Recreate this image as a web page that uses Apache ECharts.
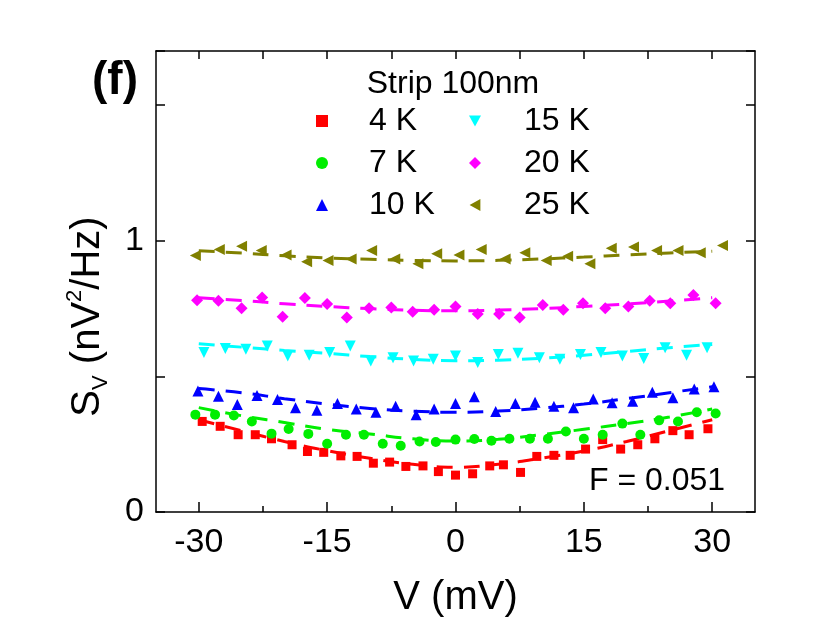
<!DOCTYPE html>
<html>
<head>
<meta charset="utf-8">
<script src="https://cdn.jsdelivr.net/npm/echarts@6/dist/echarts.min.js"></script>
<style>
html,body{margin:0;padding:0;background:#fff;}
#chart{width:830px;height:642px;}
</style>
</head>
<body>
<div id="chart"></div>
<script>
// ---- data ----
const seriesNames = ['4 K', '7 K', '10 K', '15 K', '20 K', '25 K'];
const colors = ['#ff0000', '#00ee00', '#0000ff', '#00ffff', '#ff00ff', '#808000'];

const v4K = [-29.6,-27.5,-25.4,-23.4,-21.5,-19.1,-17.3,-15.4,-13.4,-11.5,-9.6,-7.7,-5.8,-3.8,-2.0,0,2.0,4.0,5.6,7.6,9.5,11.5,13.4,15.2,17.2,19.3,21.3,23.3,25.4,27.3,29.5];
const s4K = [0.334,0.316,0.285,0.285,0.270,0.248,0.223,0.220,0.207,0.205,0.180,0.184,0.168,0.170,0.149,0.136,0.141,0.170,0.174,0.146,0.205,0.209,0.209,0.232,0.267,0.232,0.248,0.270,0.300,0.285,0.307];

const v7K = [-30.4,-28.1,-25.9,-23.8,-21.5,-19.5,-17.2,-15.0,-12.8,-10.7,-8.5,-6.4,-4.2,-2.3,0,2.2,4.2,6.3,8.7,10.8,12.9,15.0,17.2,19.5,21.6,23.8,26.0,28.2,30.4];
const s7K = [0.359,0.359,0.356,0.334,0.289,0.306,0.288,0.252,0.285,0.285,0.252,0.244,0.260,0.258,0.267,0.269,0.263,0.270,0.270,0.270,0.297,0.270,0.285,0.326,0.285,0.338,0.334,0.368,0.363];

const v10K = [-30.1,-27.7,-25.5,-23.2,-20.8,-18.7,-16.2,-13.8,-11.6,-9.3,-7.0,-4.6,-2.5,0,2.2,4.7,7.0,9.3,11.5,13.8,16.1,18.3,20.7,23.0,25.4,27.9,30.2];
const s10K = [0.446,0.427,0.396,0.430,0.415,0.384,0.375,0.400,0.380,0.368,0.390,0.359,0.380,0.400,0.425,0.371,0.400,0.405,0.390,0.384,0.417,0.403,0.408,0.442,0.421,0.454,0.462];

const v15K = [-29.4,-26.9,-24.5,-22.0,-19.6,-17.1,-14.7,-12.3,-9.9,-7.3,-4.9,-2.6,0,2.6,5.0,7.3,9.8,12.2,14.6,17.0,19.5,22.0,24.5,27.0,29.4];
const s15K = [0.588,0.603,0.600,0.612,0.575,0.578,0.588,0.612,0.557,0.569,0.557,0.563,0.575,0.551,0.581,0.585,0.569,0.563,0.581,0.588,0.575,0.566,0.606,0.578,0.606];

const v20K = [-30.2,-27.7,-25.0,-22.6,-20.2,-17.6,-15.0,-12.7,-10.1,-7.5,-5.0,-2.5,0,2.6,5.1,7.5,10.2,12.6,14.9,17.5,20.2,22.7,25.1,27.8,30.4];
const s20K = [0.781,0.779,0.751,0.791,0.720,0.789,0.767,0.717,0.751,0.754,0.738,0.746,0.758,0.730,0.730,0.717,0.763,0.746,0.770,0.751,0.758,0.779,0.770,0.800,0.770];

const v25K = [-30.4,-27.6,-25.0,-22.7,-19.8,-17.4,-14.9,-12.2,-9.8,-7.1,-4.4,-2.2,0.4,3.0,5.8,8.1,10.6,13.1,15.7,18.2,20.8,23.5,26.0,28.6,31.2];
const s25K = [0.946,0.968,0.980,0.964,0.948,0.923,0.927,0.933,0.964,0.933,0.915,0.952,0.948,0.968,0.933,0.956,0.927,0.943,0.915,0.973,0.977,0.964,0.964,0.956,0.983];

// dashed fit curves
const fitV = [-30,-25,-20,-15,-10,-5,0,5,10,15,20,25,30];
const fit4K  = [0.340,0.300,0.260,0.226,0.198,0.176,0.165,0.176,0.198,0.225,0.260,0.300,0.340];
const fit7K  = [0.385,0.355,0.330,0.305,0.288,0.270,0.262,0.268,0.285,0.305,0.326,0.350,0.380];
const fit10K = [0.455,0.440,0.418,0.398,0.382,0.372,0.368,0.372,0.383,0.398,0.418,0.440,0.462];
const fit15K = [0.620,0.608,0.596,0.585,0.573,0.563,0.558,0.560,0.567,0.578,0.592,0.606,0.618];
const fit20K = [0.790,0.780,0.768,0.758,0.750,0.744,0.742,0.745,0.750,0.758,0.767,0.778,0.790];
const fit25K = [0.963,0.955,0.945,0.937,0.932,0.928,0.926,0.928,0.933,0.940,0.948,0.955,0.962];

const xMajorTicks = [-30, -15, 0, 15, 30];
const xMinorTicks = [-22.5, -7.5, 7.5, 22.5];
const xTopTicks = [-30, -22.5, -15, -7.5, 0, 7.5, 15, 22.5, 30];
const yLabelValues = [0, 1];

// ---- build ----
const pointX = [v4K, v7K, v10K, v15K, v20K, v25K];
const pointY = [s4K, s7K, s10K, s15K, s20K, s25K];
const fitY = [fit4K, fit7K, fit10K, fit15K, fit20K, fit25K];
const symbols = ['rect', 'circle', 'triangle', 'triangle', 'diamond', 'triangle'];
const rotates = [0, 0, 0, 180, 0, 90];
const sizes = [9, 10, 11, 11, 12, 11];
// legend icons (down / left pointing triangles drawn as paths)
const legendIcons = ['rect', 'circle', 'triangle',
  'path://M0,0 L10,0 L5,9 Z', 'diamond', 'path://M9,0 L9,10 L0,5 Z'];

const zip = (xs, ys) => xs.map((x, i) => [x, ys[i]]);
const FONT = '"Liberation Sans", Arial, sans-serif';

const series = [];
fitY.forEach((fy, i) => {
  series.push({
    type: 'line', name: seriesNames[i] + ' fit', data: zip(fitV, fy),
    smooth: true, showSymbol: false, silent: true, z: 1,
    lineStyle: { color: colors[i], width: 3, type: [16, 11] }
  });
});
pointY.forEach((sy, i) => {
  series.push({
    type: 'scatter', name: seriesNames[i], data: zip(pointX[i], sy),
    symbol: symbols[i], symbolRotate: rotates[i], symbolSize: sizes[i],
    itemStyle: { color: colors[i], opacity: 1 }, z: 3
  });
});

const legendData = (from, to) => seriesNames.slice(from, to).map((n, k) => ({
  name: n, icon: legendIcons[from + k]
}));

const legendCommon = {
  orient: 'vertical', itemWidth: 12, itemHeight: 12, itemGap: 10,
  selectedMode: false
};

const chart = echarts.init(document.getElementById('chart'), null, { renderer: 'canvas' });
chart.setOption({
  backgroundColor: '#fff',
  animation: false,
  textStyle: { fontFamily: FONT },
  grid: { left: 156, right: 75, top: 51, bottom: 130, containLabel: false },
  legend: [
    Object.assign({}, legendCommon, { data: legendData(0, 3), left: 311, top: 100,
      textStyle: { fontFamily: FONT, fontSize: 32, color: '#000', padding: [0, 0, 0, 36] } }),
    Object.assign({}, legendCommon, { data: legendData(3, 6), left: 464, top: 100,
      textStyle: { fontFamily: FONT, fontSize: 32, color: '#000', padding: [0, 0, 0, 38] } })
  ],
  graphic: [
    { type: 'text', left: 92, top: 58, style: { text: '(f)', font: 'bold 46px ' + FONT, fill: '#000' } },
    { type: 'text', x: 453, y: 84, style: { text: 'Strip 100nm', font: '32px ' + FONT, fill: '#000', align: 'center', verticalAlign: 'middle' } },
    { type: 'text', x: 589, y: 481, style: { text: 'F = 0.051', font: '32px ' + FONT, fill: '#000', align: 'left', verticalAlign: 'middle' } }
  ],
  xAxis: [
    {
      type: 'value', min: -35, max: 35, position: 'bottom',
      axisLine: { show: true, onZero: false, lineStyle: { color: '#000', width: 1.5 } },
      axisTick: { show: true, inside: true, length: 10, customValues: xMajorTicks, lineStyle: { color: '#000', width: 1.5 } },
      axisLabel: { show: true, customValues: xMajorTicks, fontSize: 34, color: '#000', margin: 14, fontFamily: FONT },
      splitLine: { show: false },
      name: 'V (mV)', nameLocation: 'middle', nameGap: 66,
      nameTextStyle: { fontSize: 40, color: '#000', fontFamily: FONT }
    },
    {
      type: 'value', min: -35, max: 35, position: 'bottom',
      axisLine: { show: false, onZero: false },
      axisTick: { show: true, inside: true, length: 6, customValues: xMinorTicks, lineStyle: { color: '#000', width: 1.5 } },
      axisLabel: { show: false }, splitLine: { show: false }
    },
    {
      type: 'value', min: -35, max: 35, position: 'top',
      axisLine: { show: true, onZero: false, lineStyle: { color: '#000', width: 1.5 } },
      axisTick: { show: true, inside: true, length: 8, customValues: xTopTicks, lineStyle: { color: '#000', width: 1.5 } },
      axisLabel: { show: false }, splitLine: { show: false }
    }
  ],
  yAxis: [
    {
      type: 'value', min: 0, max: 1.7, interval: 0.5, position: 'left',
      axisLine: { show: true, onZero: false, lineStyle: { color: '#000', width: 1.5 } },
      axisTick: { show: true, inside: true, length: 9, lineStyle: { color: '#000', width: 1.5 } },
      axisLabel: {
        show: true, fontSize: 34, color: '#000', margin: 12, fontFamily: FONT,
        formatter: v => (yLabelValues.indexOf(v) >= 0 ? String(v) : '')
      },
      splitLine: { show: false },
      name: '{m|S}{sub|V}{m| (nV}{sup|2}{m|/Hz)}',
      nameLocation: 'middle', nameRotate: 90, nameGap: 44,
      nameTextStyle: {
        color: '#000', fontFamily: FONT, padding: [0, 70, 0, 0],
        rich: {
          m: { fontSize: 40, lineHeight: 48, color: '#000', fontFamily: FONT },
          sub: { fontSize: 22, lineHeight: 48, verticalAlign: 'bottom', color: '#000', fontFamily: FONT },
          sup: { fontSize: 22, lineHeight: 48, verticalAlign: 'top', color: '#000', fontFamily: FONT }
        }
      }
    },
    {
      type: 'value', min: 0, max: 1.7, interval: 0.5, position: 'right',
      axisLine: { show: true, onZero: false, lineStyle: { color: '#000', width: 1.5 } },
      axisTick: { show: true, inside: true, length: 9, lineStyle: { color: '#000', width: 1.5 } },
      axisLabel: { show: false }, splitLine: { show: false }
    }
  ],
  series: series
});
</script>
</body>
</html>
